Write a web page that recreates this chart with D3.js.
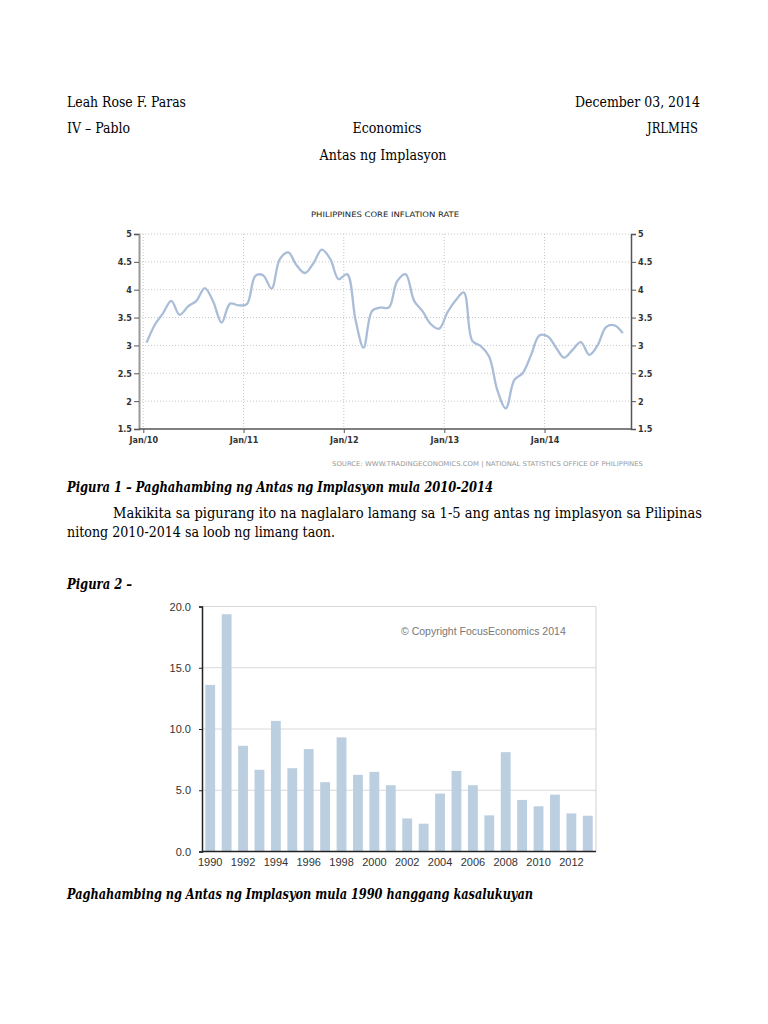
<!DOCTYPE html>
<html><head><meta charset="utf-8">
<script src="https://cdn.jsdelivr.net/npm/d3@7"></script>
<style>
html,body{margin:0;padding:0;background:#fff;}
svg{display:block;}
.doc{font-family:"DejaVu Serif Condensed","DejaVu Serif","Liberation Serif",serif;fill:#000;}
</style></head>
<body><svg id="c" width="768" height="1024"></svg>
<script>
// ---------- DATA ----------
// Figure 1: Philippines core inflation rate, monthly Jan 2010 .. Oct 2014
const coreStart = [2010, 0];
const coreValues = [3.05,3.38,3.57,3.80,3.55,3.70,3.80,4.03,3.78,3.41,3.75,3.72,
                    3.74,4.25,4.26,4.02,4.55,4.67,4.44,4.30,4.48,4.72,4.55,4.19,
                    4.28,3.45,2.96,3.62,3.68,3.68,4.15,4.28,3.80,3.62,3.38,3.30,
                    3.60,3.82,3.95,3.08,2.99,2.80,2.20,1.87,2.38,2.50,2.83,3.18,
                    3.16,2.95,2.78,2.92,3.06,2.83,3.00,3.33,3.36,3.22];
const coreYTicks = [1.5,2,2.5,3,3.5,4,4.5,5];
const coreXTickYears = [2010,2011,2012,2013,2014];
const coreTitle = "PHILIPPINES CORE INFLATION RATE";
const coreSource = "SOURCE: WWW.TRADINGECONOMICS.COM  |  NATIONAL STATISTICS OFFICE OF PHILIPPINES";

// Figure 2: annual inflation 1990..2013
const years = [1990,1991,1992,1993,1994,1995,1996,1997,1998,1999,2000,2001,
               2002,2003,2004,2005,2006,2007,2008,2009,2010,2011,2012,2013];
const annualValues = [13.6,19.37,8.63,6.67,10.66,6.8,8.36,5.66,9.32,6.26,6.5,5.41,
                      2.7,2.27,4.73,6.58,5.41,2.95,8.11,4.21,3.69,4.64,3.11,2.92];
const barYTicks = [0,5,10,15,20];
const barXLabelYears = [1990,1992,1994,1996,1998,2000,2002,2004,2006,2008,2010,2012];
const copyright = "\u00A9 Copyright FocusEconomics 2014";

// Document texts
const headerLeft = ["Leah Rose F. Paras", "IV \u2013 Pablo"];
const headerRight = ["December 03, 2014", "JRLMHS"];
const headerCenter = ["Economics", "Antas ng Implasyon"];
const caption1 = "Pigura 1 \u2013 Paghahambing ng Antas ng Implasyon mula 2010-2014";
const para = ["Makikita sa pigurang ito na naglalaro lamang sa 1-5 ang antas ng implasyon sa Pilipinas",
              "nitong 2010-2014 sa loob ng limang taon."];
const caption2 = "Pigura 2 \u2013";
const caption3 = "Paghahambing ng Antas ng Implasyon mula 1990 hanggang kasalukuyan";

// ---------- DRAW ----------
const svg = d3.select("#c");
svg.append("rect").attr("width",768).attr("height",1024).attr("fill","#fff");

function docText(str, x, y, opts) {
  opts = opts || {};
  const t = svg.append("text").attr("class","doc").attr("x",x).attr("y",y)
    .attr("font-size", opts.size || 14)
    .attr("text-anchor", opts.anchor || "start")
    .text(str);
  if (opts.italic) t.attr("font-style","italic");
  if (opts.bold) t.attr("font-weight","bold");
  if (opts.len) t.attr("textLength",opts.len).attr("lengthAdjust","spacingAndGlyphs");
  return t;
}
docText(headerLeft[0], 67, 107, {len:119});
docText(headerRight[0], 700, 107, {anchor:"end", len:125});
docText(headerLeft[1], 67, 133, {len:63});
docText(headerCenter[0], 387, 133, {anchor:"middle", len:69});
docText(headerRight[1], 698, 133, {anchor:"end", len:51});
docText(headerCenter[1], 383, 160, {anchor:"middle", len:127});

docText(caption1, 67, 492, {italic:true, bold:true, len:426});
docText(para[0], 113, 518, {len:589});
docText(para[1], 67, 537, {len:268});
docText(caption2, 67, 589, {italic:true, bold:true, len:65});
docText(caption3, 67, 899, {italic:true, bold:true, len:466});

// ---------- Figure 1: line chart ----------
const lx = d3.scaleTime()
  .domain([new Date(2010,0,1), new Date(2015,0,1)])
  .range([143.3, 644.8]);
const ly = d3.scaleLinear().domain([1.5,5]).range([429,234]);
const lLeft = 139, lRight = 631;
const g1 = svg.append("g");
const axisFont = "'DejaVu Sans Condensed','DejaVu Sans',Verdana,sans-serif";

g1.append("text").attr("x",385).attr("y",217).attr("text-anchor","middle")
  .attr("font-family",axisFont).attr("font-size",7.5).attr("fill","#222")
  .attr("textLength",148).attr("lengthAdjust","spacingAndGlyphs").text(coreTitle);

// horizontal dotted gridlines
g1.selectAll(".hg").data(coreYTicks.filter(d=>d>1.5)).enter().append("line")
  .attr("x1",lLeft).attr("x2",lRight).attr("y1",d=>ly(d)).attr("y2",d=>ly(d))
  .attr("stroke","#c8c8c8").attr("stroke-width",1).attr("stroke-dasharray","1,2");
// vertical dotted gridlines
const janDates = coreXTickYears.map(y=>new Date(y,0,1));
g1.selectAll(".vg").data(janDates).enter().append("line")
  .attr("x1",d=>lx(d)).attr("x2",d=>lx(d)).attr("y1",234).attr("y2",429)
  .attr("stroke","#c8c8c8").attr("stroke-width",1).attr("stroke-dasharray","1,2");

// axes
const leftAxis = d3.axisLeft(ly).tickValues(coreYTicks).tickSize(5).tickPadding(2)
  .tickFormat(d3.format("~g"));
const gl = g1.append("g").attr("transform",`translate(${lLeft},0)`).call(leftAxis);
const rightAxis = d3.axisRight(ly).tickValues(coreYTicks).tickSize(5).tickPadding(2)
  .tickFormat(d3.format("~g"));
const gr = g1.append("g").attr("transform",`translate(${lRight},0)`).call(rightAxis);
const bottomAxis = d3.axisBottom(lx).tickValues(janDates).tickSize(4).tickPadding(4)
  .tickFormat(d3.timeFormat("Jan/%y"));
const gb = g1.append("g").attr("transform","translate(0,429)").call(bottomAxis);
gb.select(".domain").attr("d",`M${lLeft},0H${lRight}`);
[gl,gr,gb].forEach(g=>{
  g.select(".domain").attr("stroke","#555").attr("stroke-width",1.5);
  g.selectAll(".tick line").attr("stroke","#555");
  g.selectAll(".tick text").attr("font-family",axisFont).attr("font-size",9)
    .attr("font-weight","bold").attr("fill","#333");
});
gl.select(".domain").attr("stroke","#999").attr("stroke-width",2);

const coreDates = coreValues.map((v,i)=>new Date(coreStart[0], coreStart[1]+i, 13));
const line = d3.line().x((d,i)=>lx(coreDates[i])).y(d=>ly(d))
  .curve(d3.curveCatmullRom.alpha(0.5));
g1.append("path").attr("d",line(coreValues)).attr("fill","none")
  .attr("stroke","#aabdd8").attr("stroke-width",2.3).attr("stroke-linejoin","round");

g1.append("text").attr("x",332).attr("y",466).attr("font-family",axisFont)
  .attr("font-size",6.5).attr("fill","#999").attr("textLength",311)
  .attr("lengthAdjust","spacingAndGlyphs").text(coreSource);

// ---------- Figure 2: bar chart ----------
const bx = d3.scaleBand().domain(years).range([202,596]).paddingInner(0.4).paddingOuter(0.2);
const by = d3.scaleLinear().domain([0,20]).range([851.5,606.5]);
const g2 = svg.append("g");
const barFont = "'Liberation Sans',Arial,sans-serif";

// gridlines
g2.selectAll(".bg").data(barYTicks.filter(d=>d>0)).enter().append("line")
  .attr("x1",202).attr("x2",596).attr("y1",d=>by(d)).attr("y2",d=>by(d))
  .attr("stroke","#d9d9d9").attr("stroke-width",1.2);
g2.append("line").attr("x1",596).attr("x2",596).attr("y1",by(20)).attr("y2",by(0))
  .attr("stroke","#d9d9d9").attr("stroke-width",1.2);

g2.selectAll(".bar").data(annualValues).enter().append("rect")
  .attr("x",(d,i)=>bx(years[i])).attr("width",bx.bandwidth())
  .attr("y",d=>by(d)).attr("height",d=>by(0)-by(d)).attr("fill","#bccfe0");

const bLeft = d3.axisLeft(by).tickValues(barYTicks).tickSize(3).tickPadding(8)
  .tickFormat(d3.format(".1f"));
const gbl = g2.append("g").attr("transform","translate(202,0)").call(bLeft);
const bBottom = d3.axisBottom(bx).tickValues(barXLabelYears).tickSize(0).tickPadding(7);
const gbb = g2.append("g").attr("transform",`translate(0,${by(0)})`).call(bBottom);
gbb.select(".domain").attr("d","M202,0H596");
[gbl,gbb].forEach(g=>{
  g.select(".domain").attr("stroke","#222").attr("stroke-width",1.5);
  g.selectAll(".tick line").attr("stroke","#222");
  g.selectAll(".tick text").attr("font-family",barFont).attr("font-size",11).attr("fill","#333");
});

g2.append("text").attr("x",401).attr("y",635).attr("font-family",barFont)
  .attr("font-size",10.5).attr("fill","#777").text(copyright);
</script></body></html>
